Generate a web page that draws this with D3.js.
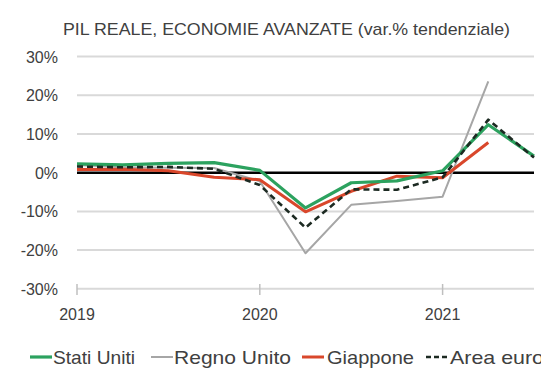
<!DOCTYPE html>
<html><head><meta charset="utf-8">
<script src="https://cdn.jsdelivr.net/npm/d3@7"></script>
<style>body{margin:0;background:#fff;}svg{display:block;font-family:"Liberation Sans",Arial,sans-serif;}</style>
</head><body>
<svg id="c" width="541" height="369"></svg>
<script>
const quarters = ["2019Q1","2019Q2","2019Q3","2019Q4","2020Q1","2020Q2","2020Q3","2020Q4","2021Q1","2021Q2","2021Q3"];
const yearTicks = ["2019Q1","2020Q1","2021Q1"];
const yearLabels = ["2019","2020","2021"];
const yTicks = [30,20,10,0,-10,-20,-30];
const statiUniti = [2.3, 2.0, 2.4, 2.6, 0.6, -9.1, -2.6, -2.1, 0.5, 12.4, 4.3];
const regnoUnito = [2.0, 1.4, 1.3, 1.2, -2.2, -20.8, -8.3, -7.3, -6.2, 23.6];
const giappone = [0.8, 0.9, 0.5, -1.2, -1.8, -10.1, -4.8, -0.9, -1.3, 7.8];
const areaEuro = [1.6, 1.4, 1.5, 1.0, -3.2, -14.2, -4.3, -4.4, -1.2, 13.7, 3.9];
const seriesNames = ["Stati Uniti","Regno Unito","Giappone","Area euro"];
const title = "PIL REALE, ECONOMIE AVANZATE (var.% tendenziale)";

const svg = d3.select("#c");
const x = d3.scalePoint().domain(quarters).range([77, 534]);
const y = d3.scaleLinear().domain([-30, 30]).range([288.8, 56.6]);

svg.append("text").attr("x", 63).attr("y", 35).attr("fill", "#404040")
  .attr("font-size", 17).attr("textLength", 447).attr("lengthAdjust", "spacingAndGlyphs").text(title);

// gridlines
svg.append("g").selectAll("line").data(yTicks.filter(d => d !== 0)).join("line")
  .attr("x1", 77).attr("x2", 534).attr("y1", d => y(d)).attr("y2", d => y(d))
  .attr("stroke", "#d9d9d9").attr("stroke-width", 2);

// y labels
svg.append("g").selectAll("text").data(yTicks).join("text")
  .attr("x", 58).attr("y", d => y(d) + 6).attr("text-anchor", "end")
  .attr("font-size", 16).attr("fill", "#404040").text(d => d + "%");

// x axis ticks
svg.append("g").selectAll("line").data(yearTicks).join("line")
  .attr("x1", d => x(d)).attr("x2", d => x(d)).attr("y1", 284).attr("y2", 295)
  .attr("stroke", "#bfbfbf").attr("stroke-width", 1.5);
svg.append("g").selectAll("text").data(yearTicks).join("text")
  .attr("x", d => x(d)).attr("y", 320).attr("text-anchor", "middle")
  .attr("font-size", 16).attr("fill", "#404040").text((d, i) => yearLabels[i]);

const line = d3.line().x((d, i) => x(quarters[i])).y(d => y(d));
const styles = [
  {data: statiUniti, color: "#2ca25f", w: 3.2, dash: null},
  {data: regnoUnito, color: "#a6a6a6", w: 2, dash: null},
  {data: giappone, color: "#d9472b", w: 3, dash: null},
  {data: areaEuro, color: "#1c2a22", w: 2.6, dash: "6,4"}
];

// zero line
svg.append("line").attr("x1", 77).attr("x2", 534).attr("y1", y(0)).attr("y2", y(0))
  .attr("stroke", "#000").attr("stroke-width", 2.5);

[1, 2, 0, 3].forEach(k => {
  const s = styles[k];
  svg.append("path").attr("d", line(s.data)).attr("fill", "none")
    .attr("stroke", s.color).attr("stroke-width", s.w)
    .attr("stroke-dasharray", s.dash).attr("stroke-linejoin", "round");
});

// legend
const legendPos = [{lx: 30, tx: 53, tw: 82}, {lx: 151, tx: 174, tw: 117}, {lx: 302, tx: 327, tw: 87}, {lx: 426, tx: 450, tw: 94}];
seriesNames.forEach((n, i) => {
  const p = legendPos[i], s = styles[i];
  svg.append("line").attr("x1", p.lx).attr("x2", p.lx + 22).attr("y1", 357).attr("y2", 357)
    .attr("stroke", s.color).attr("stroke-width", s.w).attr("stroke-dasharray", s.dash ? "5,3" : null);
  svg.append("text").attr("x", p.tx).attr("y", 364).attr("font-size", 19).attr("fill", "#404040")
    .attr("textLength", p.tw).attr("lengthAdjust", "spacingAndGlyphs").text(n);
});
</script>
</body></html>
